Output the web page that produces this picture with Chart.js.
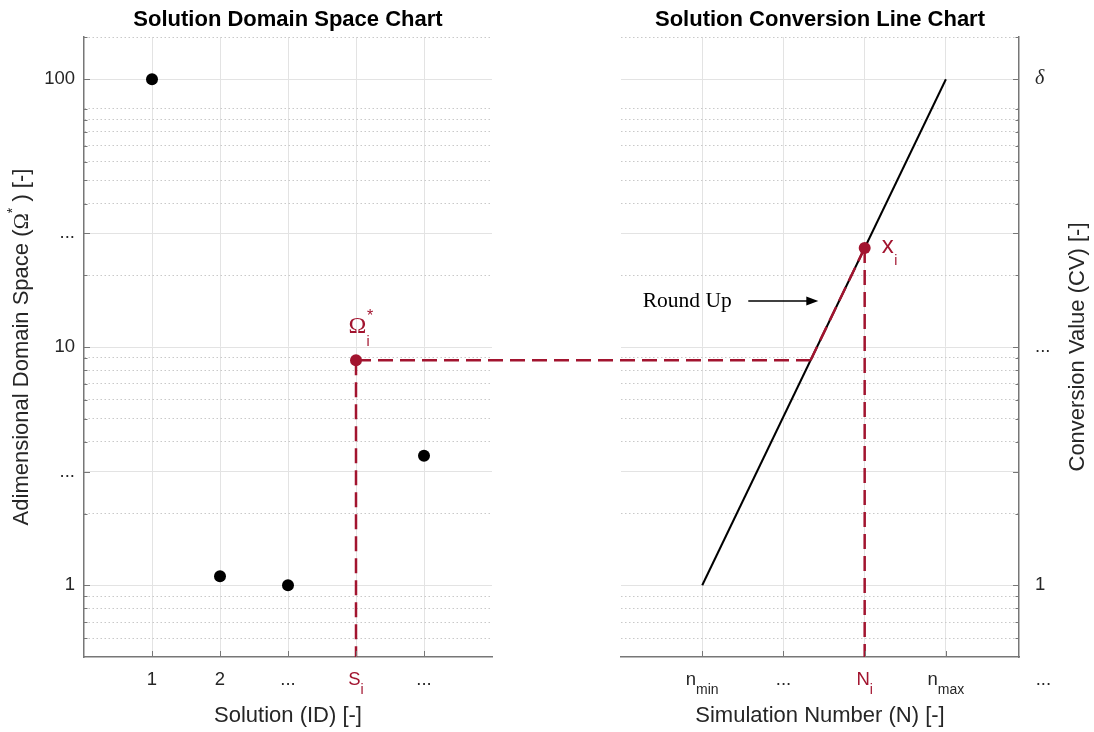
<!DOCTYPE html>
<html lang="en">
<head>
  <meta charset="UTF-8" />
  <title>Solution Domain Space / Conversion Line Chart</title>
  <script src="https://cdn.jsdelivr.net/npm/chart.js"></script>
  <style>
    body { margin: 0; background: #ffffff; }
    #wrap { position: relative; width: 1094px; height: 732px; }
    #leftChart { position: absolute; left: 0; top: 0; }
    #rightChart { position: absolute; left: 556px; top: 0; }
  </style>
</head>
<body>
<div id="wrap">
  <canvas id="leftChart" width="556" height="732"></canvas>
  <canvas id="rightChart" width="538" height="732"></canvas>
</div>

<script>
  const RED = '#a2142f';
  const INK = '#262626';
  const AXIS = '#777777';
  const SANS = '"Liberation Sans", Arial, sans-serif';
  const SERIF = '"Liberation Serif", "Times New Roman", serif';
  const DASH = [15, 7];

  // shared log y axis
  const yMin = 0.5;
  const yMax = 200;
  const yMajor = [1, 3, 10, 30, 133];
  const yMinor = [0.6, 0.7, 0.8, 0.9, 2, 4, 5, 6, 7, 8, 9, 20, 40, 50, 60, 70, 80, 90, 100, 200];
  const yLabelsLeft = ['1', '...', '10', '...', '100'];
  const yLabelsRight = ['1', '', '...', '', 'δ'];

  // left: solution domain space
  const solutionIds = [1, 2, 3, 4, 5];
  const solutionMain = ['1', '2', '...', 'S', '...'];
  const solutionSub = ['', '', '', 'i', ''];
  const domainSpace = [133, 1.09, 1.0, 8.8, 3.5];
  const pickedSolution = 3;

  // right: conversion line
  const simTicks = [1, 2, 3, 4, 5.2];
  const simMain = ['n', '...', 'N', 'n', '...'];
  const simSub = ['min', '', 'i', 'max', ''];
  const pickedSim = 2;
  const lineN = [1, 4];
  const lineCV = [1, 133];

  // "Round Up" note, in right chart data units
  const note = { textX: 1.363, tailX: 1.567, headX: 2.429, y: 15.6 };

  const omega = domainSpace[pickedSolution];
  const sI = solutionIds[pickedSolution];
  const nI = simTicks[pickedSim];
  const logSpan = Math.log10(lineCV[1]) - Math.log10(lineCV[0]);
  const xi = Math.pow(10, Math.log10(lineCV[0]) + (nI - lineN[0]) / (lineN[1] - lineN[0]) * logSpan);
  const nCross = lineN[0] + (Math.log10(omega) - Math.log10(lineCV[0])) / logSpan * (lineN[1] - lineN[0]);

  function logAxis(position, labels, width) {
    const vals = yMajor.concat(yMinor).sort((a, b) => a - b);
    return {
      type: 'logarithmic',
      position: position,
      min: yMin,
      max: yMax,
      afterBuildTicks: s => { s.ticks = vals.map(v => ({ value: v, major: yMajor.includes(v) })); },
      afterFit: s => { s.width = width; },
      ticks: {
        autoSkip: false,
        padding: position === 'left' ? 9 : 16,
        color: INK,
        font: ctx => {
          const i = ctx.tick ? yMajor.indexOf(ctx.tick.value) : -1;
          if (i >= 0 && labels[i] === 'δ') return { family: SERIF, size: 20, style: 'italic' };
          return { family: SANS, size: 18.5 };
        },
        callback: v => { const i = yMajor.indexOf(v); return i < 0 ? '' : labels[i]; }
      },
      grid: {
        drawTicks: false,
        lineWidth: 1,
        color: ctx => (ctx.tick && ctx.tick.major) ? '#e3e3e3' : '#c9c9c9'
      },
      border: {
        color: AXIS,
        width: 1.5,
        dash: ctx => (ctx.tick && !ctx.tick.major) ? [1.5, 2.5] : []
      }
    };
  }

  function linAxis(max, tickVals, title) {
    return {
      type: 'linear',
      min: 0,
      max: max,
      afterBuildTicks: s => { s.ticks = tickVals.filter(v => v <= max).map(v => ({ value: v })); },
      afterFit: s => { s.height = 75; },
      ticks: { display: false },
      grid: { drawTicks: false, color: '#e3e3e3', lineWidth: 1 },
      border: { color: AXIS, width: 1.5 },
      title: {
        display: true, text: title, color: INK,
        font: { family: SANS, size: 22 },
        padding: { top: 0, bottom: 3 }
      }
    };
  }

  function titleOpts(text) {
    return {
      display: true, text: text, fullSize: false, color: '#000000',
      font: { family: SANS, size: 22, weight: 'bold' },
      padding: { top: 7, bottom: 3.6 }
    };
  }

  // inward tick marks like the original
  const innerTicks = {
    id: 'innerTicks',
    afterDraw(chart) {
      const { ctx, chartArea: a, scales } = chart;
      ctx.save();
      ctx.strokeStyle = AXIS;
      ctx.lineWidth = 1;
      const y = scales.y;
      const x0 = y.position === 'left' ? a.left : a.right;
      const dir = y.position === 'left' ? 1 : -1;
      y.ticks.forEach(t => {
        const py = Math.round(y.getPixelForValue(t.value)) + 0.5;
        ctx.beginPath();
        ctx.moveTo(x0, py);
        ctx.lineTo(x0 + dir * (t.major ? 6 : 3.5), py);
        ctx.stroke();
      });
      scales.x.ticks.forEach(t => {
        const px = Math.round(scales.x.getPixelForValue(t.value)) + 0.5;
        ctx.beginPath();
        ctx.moveTo(px, a.bottom);
        ctx.lineTo(px, a.bottom - 6);
        ctx.stroke();
      });
      ctx.restore();
    }
  };

  function subLabels(vals, mains, subs, redIdx) {
    return {
      id: 'subLabels',
      afterDraw(chart) {
        const { ctx, chartArea } = chart;
        const xs = chart.scales.x;
        const yMid = chartArea.bottom + 23;
        ctx.save();
        ctx.textAlign = 'left';
        ctx.textBaseline = 'middle';
        vals.forEach((v, i) => {
          const px = xs.getPixelForValue(v);
          ctx.font = '18.5px ' + SANS;
          const w1 = ctx.measureText(mains[i]).width;
          ctx.font = '14px ' + SANS;
          const w2 = subs[i] ? ctx.measureText(subs[i]).width : 0;
          const x0 = px - (w1 + w2) / 2;
          ctx.fillStyle = i === redIdx ? RED : INK;
          ctx.font = '18.5px ' + SANS;
          ctx.fillText(mains[i], x0, yMid);
          if (subs[i]) {
            ctx.font = '14px ' + SANS;
            ctx.fillText(subs[i], x0 + w1, yMid + 10);
          }
        });
        ctx.restore();
      }
    };
  }

  function drawRotated(ctx, cx, cy, pieces) {
    ctx.save();
    ctx.translate(cx, cy);
    ctx.rotate(-Math.PI / 2);
    let total = 0;
    pieces.forEach(p => { ctx.font = p.font; p.w = ctx.measureText(p.text).width; total += p.w; });
    let x = -total / 2;
    ctx.textAlign = 'left';
    ctx.textBaseline = 'middle';
    ctx.fillStyle = INK;
    pieces.forEach(p => { ctx.font = p.font; ctx.fillText(p.text, x, p.dy || 0); x += p.w; });
    ctx.restore();
  }

  function dashedLine(ctx, x1, y1, x2, y2) {
    ctx.save();
    ctx.strokeStyle = RED;
    ctx.lineWidth = 2.5;
    ctx.setLineDash(DASH);
    ctx.beginPath();
    ctx.moveTo(x1, y1);
    ctx.lineTo(x2, y2);
    ctx.stroke();
    ctx.restore();
  }

  const leftNotes = {
    id: 'leftNotes',
    afterDatasetsDraw(chart) {
      const { ctx, chartArea: a, scales } = chart;
      const px = scales.x.getPixelForValue(sI);
      const py = scales.y.getPixelForValue(omega);
      dashedLine(ctx, px, py, chart.width, py);
    },
    afterDraw(chart) {
      const { ctx, chartArea: a, scales } = chart;
      const px = scales.x.getPixelForValue(sI);
      const py = scales.y.getPixelForValue(omega);
      ctx.save();
      ctx.fillStyle = RED;
      ctx.textBaseline = 'alphabetic';
      ctx.textAlign = 'center';
      ctx.font = '24px ' + SERIF;
      ctx.fillText('Ω', px + 1.5, py - 27);
      ctx.textAlign = 'left';
      ctx.font = '14px ' + SANS;
      ctx.fillText('i', px + 10.5, py - 14.5);
      ctx.font = '16px ' + SANS;
      ctx.fillText('*', px + 11, py - 39.5);
      ctx.restore();

      drawRotated(ctx, 22, (a.top + a.bottom) / 2, [
        { text: 'Adimensional Domain Space (', font: '22px ' + SANS },
        { text: 'Ω', font: '22px ' + SERIF },
        { text: '*', font: '14px ' + SANS, dy: -9 },
        { text: ' ) [-]', font: '22px ' + SANS }
      ]);
    }
  };

  const leftChart = new Chart(document.getElementById('leftChart'), {
    type: 'scatter',
    data: {
      datasets: [
        {
          data: solutionIds.map((x, i) => ({ x: x, y: domainSpace[i] })),
          pointRadius: 6,
          pointBorderWidth: 0,
          pointBackgroundColor: solutionIds.map((x, i) => i === pickedSolution ? RED : '#000000'),
          showLine: false
        },
        {
          data: [{ x: sI, y: omega }, { x: sI, y: yMin }],
          showLine: true,
          borderColor: RED,
          borderWidth: 2.5,
          borderDash: DASH,
          pointRadius: 0
        }
      ]
    },
    options: {
      responsive: false,
      animation: false,
      devicePixelRatio: 1,
      layout: { padding: { left: 0, right: 64, top: 0, bottom: 0 } },
      scales: {
        x: linAxis(6, solutionIds, 'Solution (ID) [-]'),
        y: logAxis('left', yLabelsLeft, 84)
      },
      plugins: {
        legend: { display: false },
        tooltip: { enabled: false },
        title: titleOpts('Solution Domain Space Chart')
      }
    },
    plugins: [innerTicks, subLabels(solutionIds, solutionMain, solutionSub, pickedSolution), leftNotes]
  });

  const rightCanvas = document.getElementById('rightChart');

  const rightNotes = {
    id: 'rightNotes',
    afterDatasetsDraw(chart) {
      const { ctx, scales } = chart;
      const py = scales.y.getPixelForValue(omega);
      // continue the dashed line coming from the left chart, keeping the dash phase
      const startX = leftChart.scales.x.getPixelForValue(sI) - rightCanvas.offsetLeft;
      dashedLine(ctx, startX, py, scales.x.getPixelForValue(nCross), py);
    },
    afterDraw(chart) {
      const { ctx, chartArea: a, scales } = chart;
      const xs = scales.x, ys = scales.y;
      ctx.save();
      // Round Up note with arrow
      const ny = ys.getPixelForValue(note.y);
      ctx.fillStyle = '#000000';
      ctx.font = '21.5px ' + SERIF;
      ctx.textAlign = 'right';
      ctx.textBaseline = 'middle';
      ctx.fillText('Round Up', xs.getPixelForValue(note.textX), ny);
      const tx = xs.getPixelForValue(note.tailX);
      const hx = xs.getPixelForValue(note.headX);
      ctx.strokeStyle = '#000000';
      ctx.lineWidth = 1.3;
      ctx.beginPath();
      ctx.moveTo(tx, ny);
      ctx.lineTo(hx - 10, ny);
      ctx.stroke();
      ctx.beginPath();
      ctx.moveTo(hx, ny);
      ctx.lineTo(hx - 12, ny - 4.5);
      ctx.lineTo(hx - 12, ny + 4.5);
      ctx.closePath();
      ctx.fill();

      // x_i label
      const px = xs.getPixelForValue(nI);
      const py = ys.getPixelForValue(xi);
      ctx.fillStyle = RED;
      ctx.textAlign = 'left';
      ctx.textBaseline = 'alphabetic';
      ctx.font = '24px ' + SANS;
      ctx.fillText('x', px + 17, py + 5);
      const w = ctx.measureText('x').width;
      ctx.font = '14px ' + SANS;
      ctx.fillText('i', px + 17 + w + 0.5, py + 17);
      ctx.restore();

      drawRotated(ctx, a.right + 59, (a.top + a.bottom) / 2, [
        { text: 'Conversion Value (CV) [-]', font: '22px ' + SANS }
      ]);
    }
  };

  new Chart(rightCanvas, {
    type: 'scatter',
    data: {
      datasets: [
        {
          data: [{ x: nI, y: xi }],
          pointRadius: 6,
          pointBorderWidth: 0,
          pointBackgroundColor: RED,
          showLine: false
        },
        {
          data: [{ x: nCross, y: omega }, { x: nI, y: xi }],
          showLine: true,
          borderColor: RED,
          borderWidth: 2.5,
          borderDash: DASH,
          pointRadius: 0
        },
        {
          data: [{ x: nI, y: xi }, { x: nI, y: yMin }],
          showLine: true,
          borderColor: RED,
          borderWidth: 2.5,
          borderDash: DASH,
          pointRadius: 0
        },
        {
          data: lineN.map((x, i) => ({ x: x, y: lineCV[i] })),
          showLine: true,
          borderColor: '#000000',
          borderWidth: 2,
          pointRadius: 0
        }
      ]
    },
    options: {
      responsive: false,
      animation: false,
      devicePixelRatio: 1,
      layout: { padding: { left: 65, right: 0, top: 0, bottom: 0 } },
      scales: {
        x: linAxis(4.9, simTicks, 'Simulation Number (N) [-]'),
        y: logAxis('right', yLabelsRight, 75)
      },
      plugins: {
        legend: { display: false },
        tooltip: { enabled: false },
        title: titleOpts('Solution Conversion Line Chart')
      }
    },
    plugins: [innerTicks, subLabels(simTicks, simMain, simSub, pickedSim), rightNotes]
  });
</script>
</body>
</html>
